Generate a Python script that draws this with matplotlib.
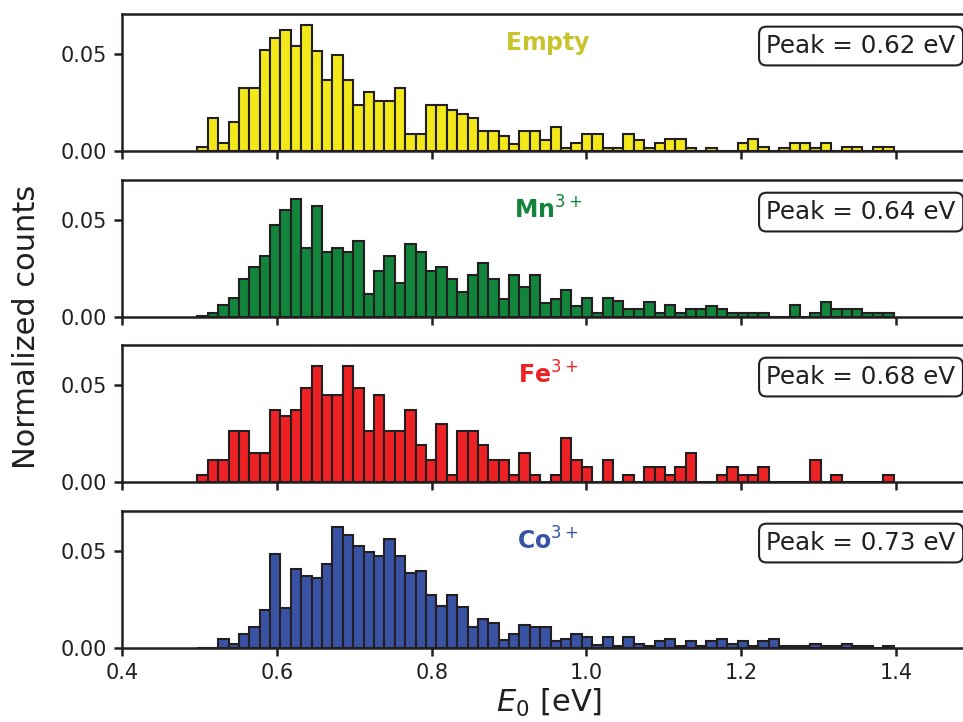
import matplotlib
matplotlib.use("Agg")
import matplotlib.pyplot as plt
import numpy as np

# shared histogram binning (eV)
E_LO = 0.497
E_HI = 1.397
N_BINS = 67

empty = [0.0021, 0.0172, 0.0041, 0.0149, 0.0323, 0.0323, 0.0519, 0.0581, 0.0624, 0.0538,
         0.0646, 0.0515, 0.0366, 0.0495, 0.0366, 0.0237, 0.0301, 0.0256, 0.0256, 0.0323,
         0.0086, 0.0086, 0.0237, 0.0237, 0.0211, 0.0191, 0.0168, 0.0103, 0.0103, 0.0079,
         0.0034, 0.0103, 0.0103, 0.0057, 0.0125, 0.0014, 0.0043, 0.0086, 0.0086, 0.0014,
         0.0014, 0.0086, 0.0057, 0.0014, 0.0040, 0.0062, 0.0062, 0.0014, 0.0, 0.0014,
         0.0, 0.0, 0.0040, 0.0062, 0.0019, 0.0, 0.0014, 0.0040, 0.0040, 0.0014,
         0.0040, 0.0, 0.0019, 0.0019, 0.0, 0.0019, 0.0019]

mn = [0.0005, 0.0022, 0.0060, 0.0100, 0.0198, 0.0255, 0.0314, 0.0471, 0.0548, 0.0609,
      0.0353, 0.0569, 0.0336, 0.0353, 0.0336, 0.0393, 0.0116, 0.0238, 0.0314, 0.0176,
      0.0374, 0.0336, 0.0238, 0.0255, 0.0195, 0.0129, 0.0216, 0.0276, 0.0195, 0.0095,
      0.0216, 0.0155, 0.0216, 0.0074, 0.0095, 0.0138, 0.0057, 0.0100, 0.0021, 0.0100,
      0.0083, 0.0040, 0.0040, 0.0078, 0.0021, 0.0060, 0.0021, 0.0040, 0.0040, 0.0057,
      0.0040, 0.0021, 0.0021, 0.0021, 0.0021, 0.0, 0.0, 0.0060, 0.0, 0.0021,
      0.0078, 0.0040, 0.0040, 0.0040, 0.0021, 0.0021, 0.0021]

fe = [0.0036, 0.0111, 0.0111, 0.0260, 0.0260, 0.0150, 0.0150, 0.0372, 0.0337, 0.0372,
      0.0485, 0.0597, 0.0447, 0.0447, 0.0597, 0.0485, 0.0260, 0.0447, 0.0260, 0.0260,
      0.0372, 0.0189, 0.0111, 0.0299, 0.0036, 0.0260, 0.0260, 0.0192, 0.0112, 0.0112,
      0.0036, 0.0150, 0.0036, 0.0, 0.0036, 0.0226, 0.0112, 0.0075, 0.0, 0.0112,
      0.0, 0.0036, 0.0, 0.0075, 0.0075, 0.0036, 0.0075, 0.0150, 0.0, 0.0,
      0.0036, 0.0075, 0.0036, 0.0036, 0.0075, 0.0, 0.0, 0.0, 0.0, 0.0112,
      0.0, 0.0036, 0.0, 0.0, 0.0, 0.0, 0.0036]

co = [0.0, 0.0, 0.0046, 0.0020, 0.0072, 0.0109, 0.0196, 0.0483, 0.0208, 0.0406,
      0.0370, 0.0358, 0.0433, 0.0621, 0.0583, 0.0522, 0.0495, 0.0473, 0.0558, 0.0473,
      0.0384, 0.0396, 0.0273, 0.0218, 0.0273, 0.0210, 0.0107, 0.0148, 0.0131, 0.0043,
      0.0072, 0.0119, 0.0107, 0.0107, 0.0034, 0.0048, 0.0072, 0.0056, 0.0017, 0.0056,
      0.0012, 0.0056, 0.0020, 0.0009, 0.0034, 0.0048, 0.0012, 0.0034, 0.0012, 0.0034,
      0.0048, 0.0020, 0.0034, 0.0009, 0.0034, 0.0048, 0.0009, 0.0009, 0.0009, 0.0020,
      0.0009, 0.0009, 0.0022, 0.0012, 0.0009, 0.0, 0.0012]

series = [empty, mn, fe, co]
labels = [r"$\mathbf{Empty}$", r"$\mathbf{Mn}^{3+}$", r"$\mathbf{Fe}^{3+}$", r"$\mathbf{Co}^{3+}$"]
peaks = [0.62, 0.64, 0.68, 0.73]
fill_colors = ["#f2e81a", "#12843c", "#ee2224", "#3953a4"]
label_colors = ["#c8c42e", "#12843c", "#ee2224", "#3953a4"]

plt.rcParams["font.family"] = "DejaVu Sans"
plt.rcParams["mathtext.fontset"] = "dejavusans"

fig = plt.figure(figsize=(9.63, 7.22), dpi=100)

edges = np.linspace(E_LO, E_HI, N_BINS + 1)
centers = 0.5 * (edges[:-1] + edges[1:])

bottoms = [0.7909, 0.5609, 0.3324, 0.1025]
for i, (vals, lab, pk, fc, lc) in enumerate(zip(series, labels, peaks, fill_colors, label_colors)):
    ax = fig.add_axes([0.127, bottoms[i], 0.8836, 0.19])
    ax.hist(centers, bins=edges, weights=vals, color=fc, edgecolor="#231f20", linewidth=1.5)
    ax.set_xlim(0.4, 1.5)
    ax.set_ylim(0, 0.0705)
    ax.set_yticks([0.0, 0.05])
    ax.set_yticklabels(["0.00", "0.05"])
    ax.set_xticks([0.4, 0.6, 0.8, 1.0, 1.2, 1.4])
    ax.tick_params(direction="out", length=6, width=1.8, labelsize=15, pad=5,
                   color="#231f20", labelcolor="#231f20")
    for sp in ax.spines.values():
        sp.set_linewidth(1.8)
        sp.set_color("#231f20")
    if i < 3:
        ax.tick_params(labelbottom=False)
    ax.text(0.5, 0.78, lab, transform=ax.transAxes, ha="center", va="center",
            fontsize=17, color=lc)
    ax.text(0.757, 0.765, f"Peak = {pk:.2f} eV", transform=ax.transAxes,
            ha="left", va="center", fontsize=17.7, color="#231f20",
            bbox=dict(boxstyle="round,pad=0.3", facecolor="white",
                      edgecolor="#231f20", linewidth=1.5))

fig.text(0.027, 0.547, "Normalized counts", rotation=90, ha="center", va="center",
         fontsize=22, color="#231f20")
fig.text(0.57, 0.014, r"$E_0$ [eV]", ha="center", va="baseline", fontsize=22,
         color="#231f20")

fig.savefig("out.png", dpi=100)
